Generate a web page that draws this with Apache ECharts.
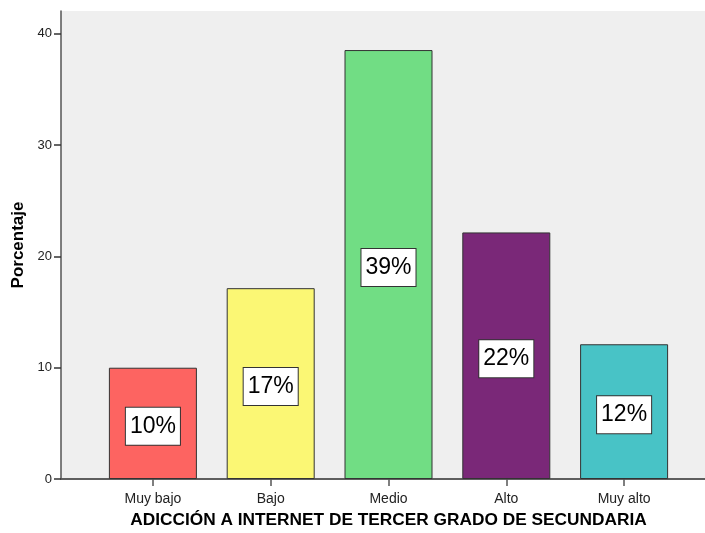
<!DOCTYPE html>
<html>
<head>
<meta charset="utf-8">
<script src="https://cdn.jsdelivr.net/npm/echarts@6/dist/echarts.min.js"></script>
<style>
  html, body { margin: 0; padding: 0; background: #fff; }
  #chart { width: 705px; height: 533px; }
</style>
</head>
<body>
<div id="chart"></div>
<script>
var categories = ['Muy bajo', 'Bajo', 'Medio', 'Alto', 'Muy alto'];
var values = [10.0, 17.15, 38.55, 22.16, 12.11];
var barColors = ['#fd6461', '#fbf774', '#71dd84', '#7a2878', '#48c3c6'];
var yTicks = [0, 10, 20, 30, 40];

var chart = echarts.init(document.getElementById('chart'), null, { renderer: 'canvas' });
var font = '"Liberation Sans", Arial, sans-serif';
var yMax = 42.06;

var option = {
  animation: false,
  grid: [
    // frame with grey background
    { left: 61, right: 0, top: 11, bottom: 54, show: true, backgroundColor: '#efefef', borderWidth: 0, outerBoundsMode: 'none' },
    // bars
    { left: 94, width: 589, top: 11, bottom: 54, outerBoundsMode: 'none' }
  ],
  xAxis: [
    { gridIndex: 0, type: 'value', position: 'top', min: 0, max: 1,
      axisLine: { show: true, lineStyle: { color: '#555', width: 1.5 } },
      axisTick: { show: false }, axisLabel: { show: false }, splitLine: { show: false } },
    { gridIndex: 0, type: 'value', position: 'bottom', min: 0, max: 1,
      axisLine: { show: true, lineStyle: { color: '#555', width: 1.5 } },
      axisTick: { show: false }, axisLabel: { show: false }, splitLine: { show: false } },
    { gridIndex: 1, type: 'category', data: categories,
      name: 'ADICCIÓN A INTERNET DE TERCER GRADO DE SECUNDARIA',
      nameLocation: 'middle', nameGap: 33,
      nameTextStyle: { fontFamily: font, fontSize: 17.3, fontWeight: 'bold', color: '#000' },
      axisLine: { show: false },
      axisTick: { show: true, alignWithLabel: true, length: 7, lineStyle: { color: '#555', width: 1.5 } },
      axisLabel: { fontFamily: font, fontSize: 14, color: '#222', margin: 13 }
    }
  ],
  yAxis: [
    { gridIndex: 0, type: 'value', min: 0, max: yMax,
      name: 'Porcentaje', nameLocation: 'middle', nameGap: 32,
      nameTextStyle: { fontFamily: font, fontSize: 17, fontWeight: 'bold', color: '#000' },
      axisLine: { show: true, lineStyle: { color: '#555', width: 1.5 } },
      axisTick: { show: true, length: 7, customValues: yTicks, lineStyle: { color: '#333', width: 1.5 } },
      axisLabel: { customValues: yTicks, fontFamily: font, fontSize: 13, color: '#222', margin: 9 },
      splitLine: { show: false } },
    { gridIndex: 1, type: 'value', min: 0, max: yMax, show: false }
  ],
  series: [{
    type: 'bar',
    xAxisIndex: 2,
    yAxisIndex: 1,
    barWidth: 88,
    data: values.map(function (v, i) {
      return { value: v, itemStyle: { color: barColors[i] } };
    }),
    itemStyle: { borderColor: '#333', borderWidth: 1 },
    label: {
      show: true,
      position: 'inside',
      offset: [0, 3],
      formatter: function (p) { return Math.round(p.value) + '%'; },
      fontFamily: font,
      fontSize: 23,
      lineHeight: 24,
      color: '#000',
      backgroundColor: '#fff',
      borderColor: '#333',
      borderWidth: 1,
      padding: [8, 4, 5, 4]
    }
  }]
};
chart.setOption(option);
</script>
</body>
</html>
